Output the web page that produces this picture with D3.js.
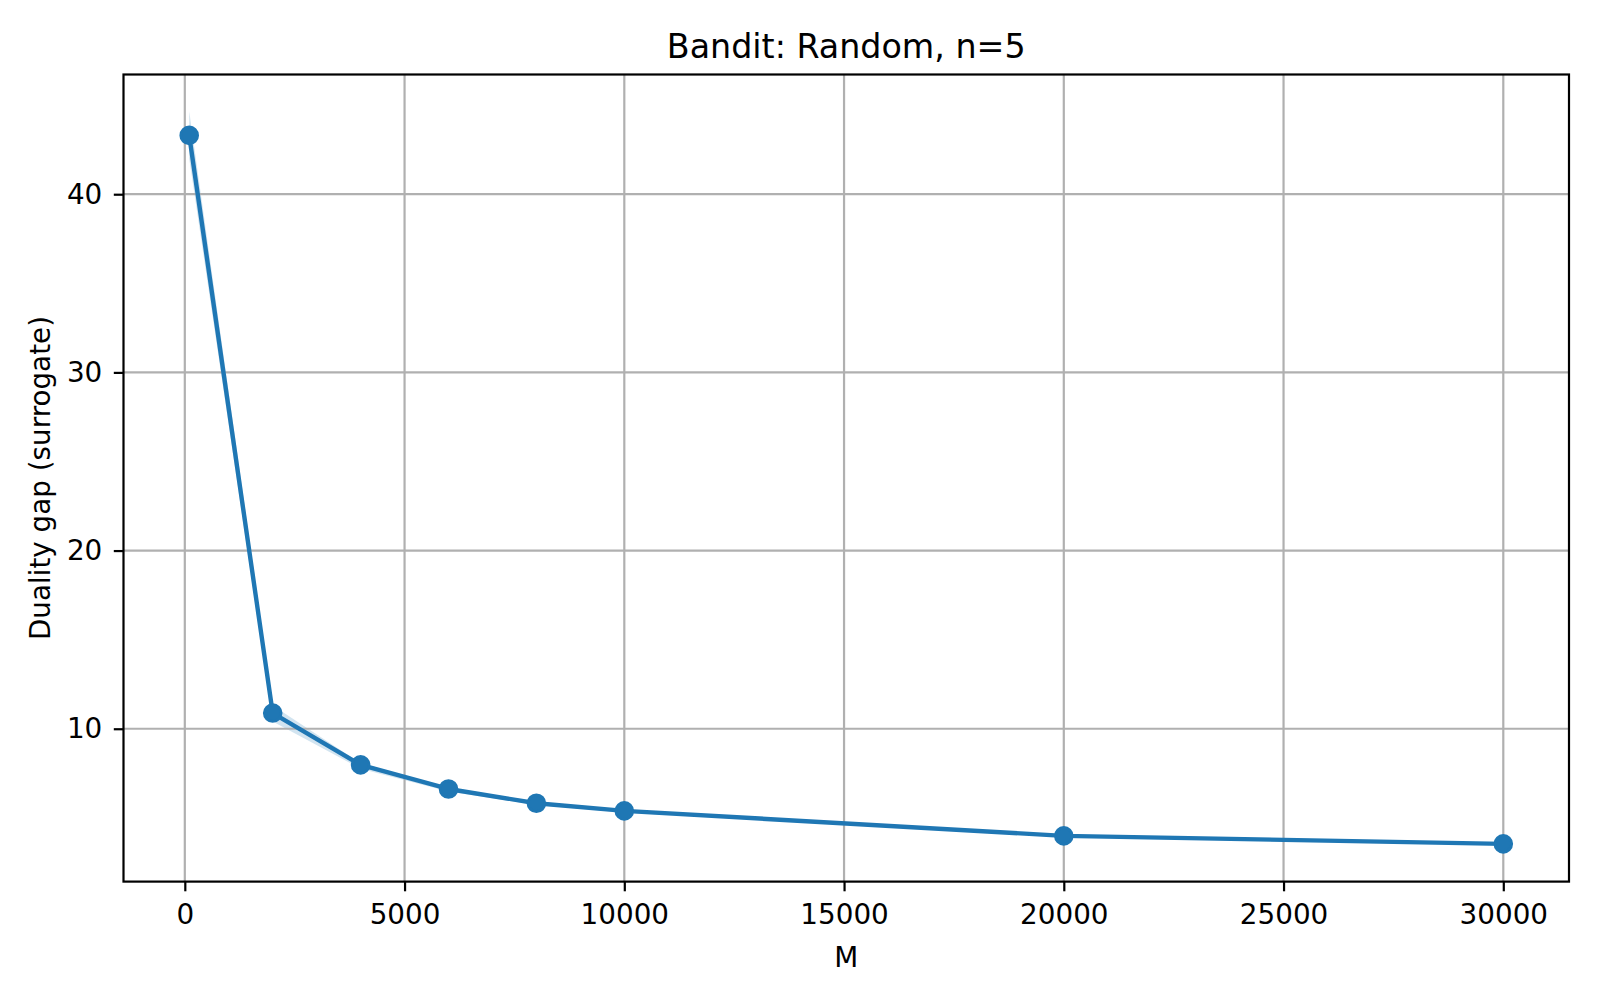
<!DOCTYPE html>
<html><head><meta charset="utf-8">
<script src="https://cdn.jsdelivr.net/npm/d3@7"></script>
<style>body{margin:0;background:#fff} text{font-family:"DejaVu Sans",sans-serif;fill:#000}</style>
</head><body><svg id="c" width="1600" height="1000"></svg>
<script>
const title = "Bandit: Random, n=5";
const xLabel = "M";
const yLabel = "Duality gap (surrogate)";
const M = [100, 2000, 4000, 6000, 8000, 10000, 20000, 30000];
const gap = [43.3, 10.88, 7.97, 6.62, 5.82, 5.39, 3.99, 3.54];
const gapLow = [42.0, 10.4, 7.76, 6.48, 5.72, 5.3, 3.92, 3.48];
const gapHigh = [44.66, 11.3, 8.06, 6.72, 5.9, 5.47, 4.05, 3.6];
const xTicks = [0, 5000, 10000, 15000, 20000, 25000, 30000];
const yTicks = [10, 20, 30, 40];

const L = 123.5, R = 1569, T = 74.5, B = 881.6;
const svg = d3.select("#c");
const pad = (lo, hi) => { const r = hi - lo; return [lo - 0.05 * r, hi + 0.05 * r]; };
const x = d3.scaleLinear().domain(pad(d3.min(M), d3.max(M))).range([L, R]);
const y = d3.scaleLinear().domain(pad(d3.min(gapLow), d3.max(gapHigh))).range([B, T]);
const blue = "#1f77b4";
const data = M.map((m, i) => ({m, v: gap[i], lo: gapLow[i], hi: gapHigh[i]}));

// band
svg.append("path").datum(data)
  .attr("d", d3.area().x(d => x(d.m)).y0(d => y(d.lo)).y1(d => y(d.hi)))
  .attr("fill", blue).attr("fill-opacity", 0.2);

// grid
const g = svg.append("g");
g.selectAll(".gx").data(xTicks).join("line")
  .attr("x1", d => x(d)).attr("x2", d => x(d)).attr("y1", T).attr("y2", B)
  .attr("stroke", "#b0b0b0").attr("stroke-width", 2.2);
g.selectAll(".gy").data(yTicks).join("line")
  .attr("x1", L).attr("x2", R).attr("y1", d => y(d)).attr("y2", d => y(d))
  .attr("stroke", "#b0b0b0").attr("stroke-width", 2.2);

// line + markers
svg.append("path").datum(data)
  .attr("d", d3.line().x(d => x(d.m)).y(d => y(d.v)))
  .attr("fill", "none").attr("stroke", blue).attr("stroke-width", 4.4)
  .attr("stroke-linejoin", "round").attr("stroke-linecap", "butt");
svg.selectAll(".pt").data(data).join("circle")
  .attr("cx", d => x(d.m)).attr("cy", d => y(d.v)).attr("r", 8.4)
  .attr("fill", blue).attr("stroke", blue).attr("stroke-width", 2.8);

// frame
svg.append("rect").attr("x", L).attr("y", T).attr("width", R - L).attr("height", B - T)
  .attr("fill", "none").attr("stroke", "#000").attr("stroke-width", 2.2);

// axes
const ax = svg.append("g").attr("transform", `translate(0,${B})`)
  .call(d3.axisBottom(x).tickValues(xTicks).tickFormat(d3.format("d")).tickSize(9.7).tickPadding(13));
const ay = svg.append("g").attr("transform", `translate(${L},0)`)
  .call(d3.axisLeft(y).tickValues(yTicks).tickFormat(d3.format("d")).tickSize(9.7).tickPadding(11.5));
[ax, ay].forEach(a => {
  a.select(".domain").remove();
  a.selectAll(".tick line").attr("stroke", "#000").attr("stroke-width", 2.2);
  a.selectAll(".tick text").attr("font-size", 27.8).attr("font-family", "DejaVu Sans").attr("fill", "#000");
});

svg.append("text").attr("x", (L + R) / 2).attr("y", 58).attr("text-anchor", "middle")
  .attr("font-size", 33.3).text(title);
svg.append("text").attr("x", (L + R) / 2).attr("y", 967).attr("text-anchor", "middle")
  .attr("font-size", 27.8).text(xLabel);
svg.append("text").attr("transform", `translate(50,${(T + B) / 2}) rotate(-90)`)
  .attr("text-anchor", "middle").attr("font-size", 27.8).text(yLabel);
</script></body></html>
